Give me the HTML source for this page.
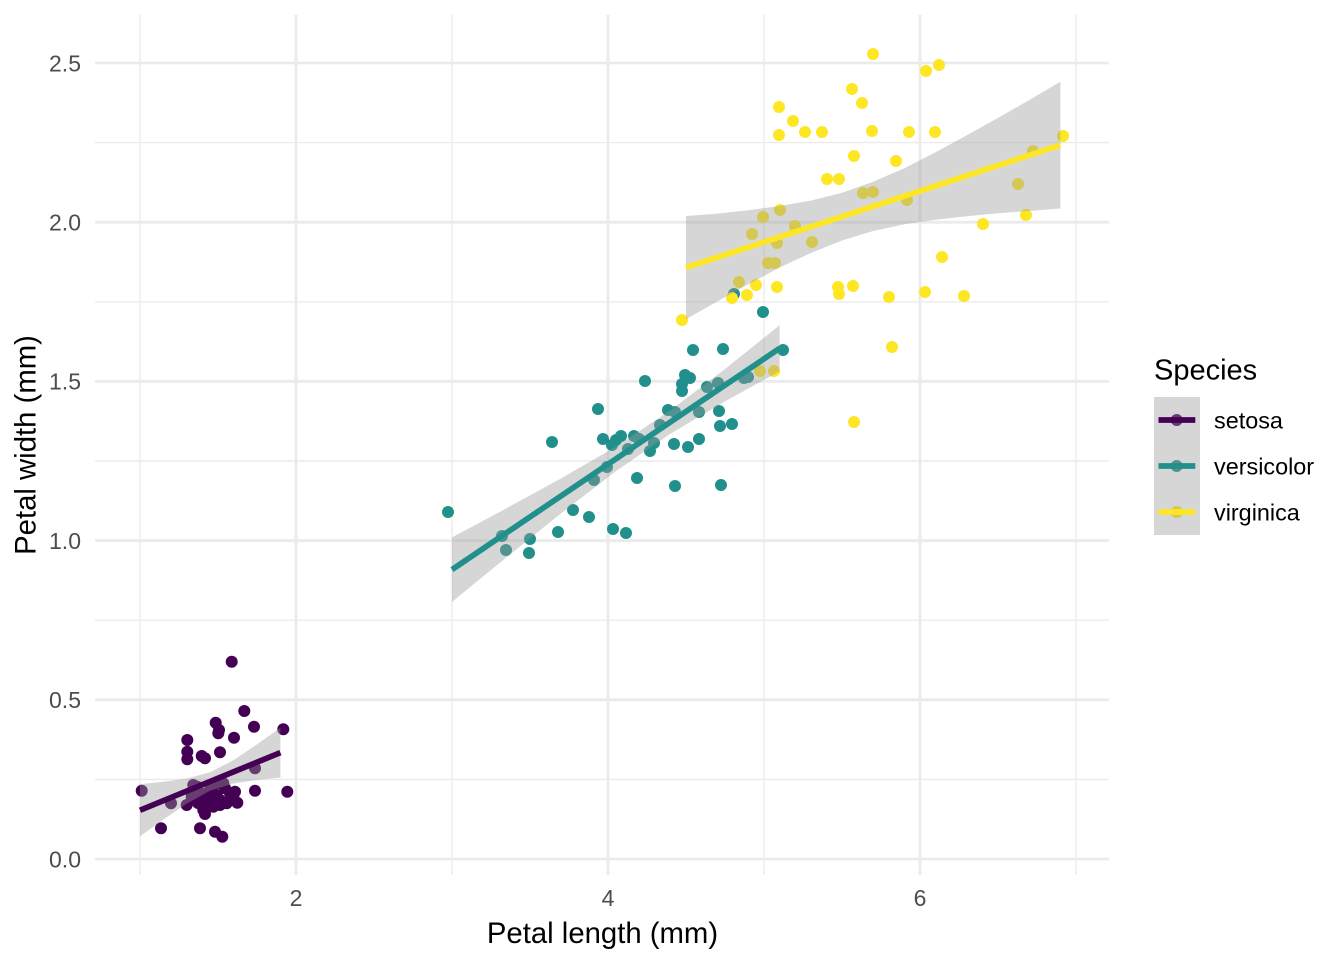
<!DOCTYPE html>
<html>
<head>
<meta charset="utf-8">
<style>
html,body{margin:0;padding:0;background:#fff;}
svg{display:block;}
text{font-family:"Liberation Sans",Arial,Helvetica,sans-serif;}
</style>
</head>
<body>
<svg width="1344" height="960" viewBox="0 0 1344 960" xmlns="http://www.w3.org/2000/svg">
<rect x="0" y="0" width="1344" height="960" fill="#ffffff"/>

<g stroke="#EBEBEB" stroke-width="1.42" fill="none">
  <line x1="95" y1="779.4" x2="1109" y2="779.4"/>
  <line x1="95" y1="620.2" x2="1109" y2="620.2"/>
  <line x1="95" y1="461" x2="1109" y2="461"/>
  <line x1="95" y1="301.8" x2="1109" y2="301.8"/>
  <line x1="95" y1="142.6" x2="1109" y2="142.6"/>
  <line x1="140" y1="15" x2="140" y2="875"/>
  <line x1="452" y1="15" x2="452" y2="875"/>
  <line x1="764" y1="15" x2="764" y2="875"/>
  <line x1="1076" y1="15" x2="1076" y2="875"/>
</g>
<g stroke="#EBEBEB" stroke-width="2.85" fill="none">
  <line x1="95" y1="859" x2="1109" y2="859"/>
  <line x1="95" y1="699.8" x2="1109" y2="699.8"/>
  <line x1="95" y1="540.6" x2="1109" y2="540.6"/>
  <line x1="95" y1="381.4" x2="1109" y2="381.4"/>
  <line x1="95" y1="222.2" x2="1109" y2="222.2"/>
  <line x1="95" y1="63" x2="1109" y2="63"/>
  <line x1="296" y1="15" x2="296" y2="875"/>
  <line x1="608" y1="15" x2="608" y2="875"/>
  <line x1="920" y1="15" x2="920" y2="875"/>
</g>

<g fill="#440154">
<circle cx="141.7" cy="790.7" r="6"/>
<circle cx="161" cy="828.3" r="6"/>
<circle cx="171" cy="803.3" r="6"/>
<circle cx="187.3" cy="740" r="6"/>
<circle cx="187.3" cy="751.7" r="6"/>
<circle cx="187.3" cy="759.3" r="6"/>
<circle cx="201.7" cy="756" r="6"/>
<circle cx="205" cy="758.3" r="6"/>
<circle cx="220" cy="752.3" r="6"/>
<circle cx="215.7" cy="722.7" r="6"/>
<circle cx="219" cy="730" r="6"/>
<circle cx="218.3" cy="733.3" r="6"/>
<circle cx="231.7" cy="661.7" r="6"/>
<circle cx="244.3" cy="711" r="6"/>
<circle cx="254" cy="726.7" r="6"/>
<circle cx="234" cy="737.7" r="6"/>
<circle cx="283.3" cy="729.3" r="6"/>
<circle cx="255" cy="768.3" r="6"/>
<circle cx="255" cy="790.7" r="6"/>
<circle cx="287.3" cy="791.7" r="6"/>
<circle cx="235" cy="791.7" r="6"/>
<circle cx="237.3" cy="802.7" r="6"/>
<circle cx="200" cy="828.3" r="6"/>
<circle cx="205" cy="814" r="6"/>
<circle cx="215" cy="831.7" r="6"/>
<circle cx="222.3" cy="836.7" r="6"/>
<circle cx="186.7" cy="805" r="6"/>
<circle cx="193.3" cy="785" r="6"/>
<circle cx="197.3" cy="786.7" r="6"/>
<circle cx="191.7" cy="796.7" r="6"/>
<circle cx="206.7" cy="793.3" r="6"/>
<circle cx="211.7" cy="796.7" r="6"/>
<circle cx="216.7" cy="783.3" r="6"/>
<circle cx="223.3" cy="783.3" r="6"/>
<circle cx="225" cy="788.3" r="6"/>
<circle cx="230" cy="793.3" r="6"/>
<circle cx="213.3" cy="806.7" r="6"/>
<circle cx="205" cy="803.3" r="6"/>
<circle cx="200" cy="800" r="6"/>
<circle cx="220" cy="800" r="6"/>
<circle cx="226.7" cy="803.3" r="6"/>
<circle cx="210" cy="790" r="6"/>
<circle cx="216.7" cy="795" r="6"/>
<circle cx="208.3" cy="800" r="6"/>
<circle cx="203.3" cy="810" r="6"/>
<circle cx="233.3" cy="796.7" r="6"/>
<circle cx="215" cy="803.3" r="6"/>
<circle cx="220" cy="805" r="6"/>
<circle cx="201.7" cy="795" r="6"/>
<circle cx="198" cy="803" r="6"/>
</g>

<g fill="#21908C">
<circle cx="448" cy="512" r="6"/>
<circle cx="502" cy="536" r="6"/>
<circle cx="506" cy="550" r="6"/>
<circle cx="530" cy="539" r="6"/>
<circle cx="529" cy="553" r="6"/>
<circle cx="558" cy="532" r="6"/>
<circle cx="573" cy="510" r="6"/>
<circle cx="589" cy="517" r="6"/>
<circle cx="613" cy="529" r="6"/>
<circle cx="626" cy="533" r="6"/>
<circle cx="552" cy="442" r="6"/>
<circle cx="598" cy="409" r="6"/>
<circle cx="594" cy="480" r="6"/>
<circle cx="607" cy="467" r="6"/>
<circle cx="637" cy="478" r="6"/>
<circle cx="603" cy="439" r="6"/>
<circle cx="612" cy="445" r="6"/>
<circle cx="621" cy="436" r="6"/>
<circle cx="634" cy="436" r="6"/>
<circle cx="639" cy="439" r="6"/>
<circle cx="628" cy="449" r="6"/>
<circle cx="650" cy="451" r="6"/>
<circle cx="654" cy="443" r="6"/>
<circle cx="645" cy="381" r="6"/>
<circle cx="668" cy="410" r="6"/>
<circle cx="675" cy="412" r="6"/>
<circle cx="674" cy="444" r="6"/>
<circle cx="688" cy="447" r="6"/>
<circle cx="699" cy="439" r="6"/>
<circle cx="675" cy="486" r="6"/>
<circle cx="721" cy="485" r="6"/>
<circle cx="682" cy="384" r="6"/>
<circle cx="685" cy="375" r="6"/>
<circle cx="690" cy="378" r="6"/>
<circle cx="682" cy="391" r="6"/>
<circle cx="693" cy="350" r="6"/>
<circle cx="723" cy="349" r="6"/>
<circle cx="707" cy="387" r="6"/>
<circle cx="718" cy="383" r="6"/>
<circle cx="699" cy="412" r="6"/>
<circle cx="719" cy="411" r="6"/>
<circle cx="720" cy="426" r="6"/>
<circle cx="732" cy="424" r="6"/>
<circle cx="744" cy="378" r="6"/>
<circle cx="748" cy="377" r="6"/>
<circle cx="783" cy="350" r="6"/>
<circle cx="763" cy="312" r="6"/>
<circle cx="734" cy="294" r="6"/>
<circle cx="660" cy="425" r="6"/>
<circle cx="616" cy="440" r="6"/>
</g>

<g fill="#FDE725">
<circle cx="873" cy="54" r="6"/>
<circle cx="779" cy="107" r="6"/>
<circle cx="793" cy="121" r="6"/>
<circle cx="779" cy="135" r="6"/>
<circle cx="805" cy="132" r="6"/>
<circle cx="822" cy="132" r="6"/>
<circle cx="852" cy="89" r="6"/>
<circle cx="862" cy="103" r="6"/>
<circle cx="872" cy="131" r="6"/>
<circle cx="854" cy="156" r="6"/>
<circle cx="827" cy="179" r="6"/>
<circle cx="839" cy="179" r="6"/>
<circle cx="863" cy="193" r="6"/>
<circle cx="873" cy="192" r="6"/>
<circle cx="780" cy="210" r="6"/>
<circle cx="763" cy="217" r="6"/>
<circle cx="795" cy="226" r="6"/>
<circle cx="752" cy="234" r="6"/>
<circle cx="812" cy="242" r="6"/>
<circle cx="926" cy="71" r="6"/>
<circle cx="939" cy="65" r="6"/>
<circle cx="909" cy="132" r="6"/>
<circle cx="935" cy="132" r="6"/>
<circle cx="896" cy="161" r="6"/>
<circle cx="907" cy="200" r="6"/>
<circle cx="1063" cy="136" r="6"/>
<circle cx="1033" cy="151" r="6"/>
<circle cx="1018" cy="184" r="6"/>
<circle cx="1026" cy="215" r="6"/>
<circle cx="983" cy="224" r="6"/>
<circle cx="777" cy="243" r="6"/>
<circle cx="768" cy="263" r="6"/>
<circle cx="775" cy="263" r="6"/>
<circle cx="739" cy="282" r="6"/>
<circle cx="756" cy="285" r="6"/>
<circle cx="777" cy="287" r="6"/>
<circle cx="747" cy="295" r="6"/>
<circle cx="732" cy="298" r="6"/>
<circle cx="682" cy="320" r="6"/>
<circle cx="838" cy="287" r="6"/>
<circle cx="839" cy="294" r="6"/>
<circle cx="853" cy="286" r="6"/>
<circle cx="889" cy="297" r="6"/>
<circle cx="925" cy="292" r="6"/>
<circle cx="964" cy="296" r="6"/>
<circle cx="942" cy="257" r="6"/>
<circle cx="892" cy="347" r="6"/>
<circle cx="854" cy="422" r="6"/>
<circle cx="760" cy="371" r="6"/>
<circle cx="774" cy="371" r="6"/>
</g>

<polygon fill="#999999" fill-opacity="0.4" points="140,784.2 163.4,781.8 186.8,778.5 210.2,772.3 233.6,760.1 257,744.4 280.4,727.7 280.4,777.5 257,780.0 233.6,783.5 210.2,790.6 186.8,803.6 163.4,819.5 140,836.4"/>
<line x1="140" y1="810.3" x2="280.4" y2="752.6" stroke="#440154" stroke-width="5.7"/>

<polygon fill="#999999" fill-opacity="0.4" points="452,537.4 506.6,508.2 561.2,478.4 615.8,446.7 670.4,410.4 725,369.0 779.6,325.2 779.6,371.3 725,401.4 670.4,433.7 615.8,471.2 561.2,513.3 506.6,557.3 452,601.9"/>
<line x1="452" y1="569.6" x2="779.6" y2="348.3" stroke="#21908C" stroke-width="5.7"/>

<polygon fill="#999999" fill-opacity="0.4" points="686,216.0 717.2,213.6 748.4,210.2 779.6,206.0 810.8,200.6 842,192.8 873.2,181.7 904.4,168.2 935.6,152.2 966.8,135.3 998,117.9 1029.2,100.1 1060.4,81.8 1060.4,208.5 1029.2,211.0 998,213.2 966.8,216.2 935.6,219.7 904.4,224.3 873.2,231.0 842,240.5 810.8,253.0 779.6,267.5 748.4,284.3 717.2,301.5 686,319.3"/>
<line x1="686" y1="267.6" x2="1060.4" y2="145.1" stroke="#FDE725" stroke-width="5.7"/>

<g fill="#4D4D4D" font-size="23px" text-anchor="end">
  <text x="81" y="867.3">0.0</text>
  <text x="81" y="708.1">0.5</text>
  <text x="81" y="548.9">1.0</text>
  <text x="81" y="389.7">1.5</text>
  <text x="81" y="230.5">2.0</text>
  <text x="81" y="71.3">2.5</text>
</g>
<g fill="#4D4D4D" font-size="23px" text-anchor="middle">
  <text x="296" y="906">2</text>
  <text x="608" y="906">4</text>
  <text x="920" y="906">6</text>
</g>

<text x="602.5" y="943" font-size="29.3px" fill="#000" text-anchor="middle">Petal length (mm)</text>
<text transform="translate(35.5,445) rotate(-90)" font-size="29.3px" fill="#000" text-anchor="middle">Petal width (mm)</text>

<text x="1154" y="379.5" font-size="29px" fill="#000">Species</text>
<circle cx="1176.7" cy="420" r="6" fill="#440154"/>
<circle cx="1176.7" cy="466" r="6" fill="#21908C"/>
<circle cx="1176.7" cy="512" r="6" fill="#FDE725"/>
<rect x="1154" y="397" width="46" height="46" fill="#999999" fill-opacity="0.4"/>
<rect x="1154" y="443" width="46" height="46" fill="#999999" fill-opacity="0.4"/>
<rect x="1154" y="489" width="46" height="46" fill="#999999" fill-opacity="0.4"/>
<line x1="1158.5" y1="420" x2="1195.3" y2="420" stroke="#440154" stroke-width="5.7"/>
<line x1="1158.5" y1="466" x2="1195.3" y2="466" stroke="#21908C" stroke-width="5.7"/>
<line x1="1158.5" y1="512" x2="1195.3" y2="512" stroke="#FDE725" stroke-width="5.7"/>
<g font-size="23.4px" fill="#000">
  <text x="1214" y="428.3">setosa</text>
  <text x="1214" y="474.3">versicolor</text>
  <text x="1214" y="520.3">virginica</text>
</g>
</svg>
</body>
</html>
